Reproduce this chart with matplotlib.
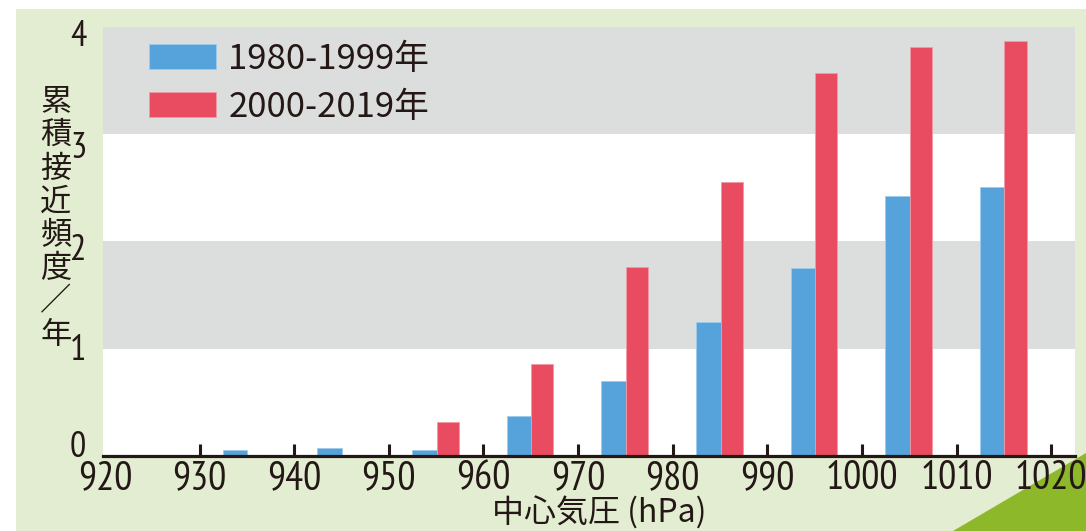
import matplotlib
matplotlib.use("Agg")
import matplotlib.pyplot as plt
from matplotlib.patches import Rectangle, Polygon
import matplotlib.transforms as mtransforms

# ---- data ----
bin_centers = [935, 945, 955, 965, 975, 985, 995, 1005, 1015]
freq_1980_1999 = [0.06, 0.07, 0.06, 0.37, 0.70, 1.25, 1.75, 2.42, 2.51]
freq_2000_2019 = [0.00, 0.00, 0.32, 0.86, 1.76, 2.55, 3.57, 3.81, 3.87]
series_labels = ["1980-1999年", "2000-2019年"]
x_ticks = [920, 930, 940, 950, 960, 970, 980, 990, 1000, 1010, 1020]
y_ticks = [0, 1, 2, 3, 4]
ylabel_chars = ["累", "積", "接", "近", "頻", "度", "／", "年"]
xlabel_text = "中心気圧 (hPa)"

W, H = 1086, 531
BLUE = "#56a3db"
RED = "#e94c60"
GREY = "#dcdedd"
GREEN_BG = "#e3edd2"
GREEN_TRI = "#8cb82a"
INK = "#231815"

NARROW = ["PT Sans Narrow", "DejaVu Sans Condensed", "DejaVu Sans"]
CJK = ["Noto Sans CJK JP", "DejaVu Sans"]

fig = plt.figure(figsize=(W / 100, H / 100), dpi=100, facecolor="white")

# background panel
fig.patches.append(Rectangle((16 / W, 0), 1 - 16 / W, (H - 9) / H,
                             transform=fig.transFigure, facecolor=GREEN_BG,
                             edgecolor="none", zorder=-2))
fig.patches.append(Polygon([(953 / W, 0), (1, (H - 453) / H), (1, 0)],
                           closed=True, transform=fig.transFigure,
                           facecolor=GREEN_TRI, edgecolor="none", zorder=-1))

left, right = 103 / W, 1075 / W
bottom, top = (H - 456) / H, (H - 26.7) / H
ax = fig.add_axes([left, bottom, right - left, top - bottom])
ax.set_facecolor("white")
ax.axhspan(3, 4, color=GREY, lw=0, zorder=0)
ax.axhspan(1, 2, color=GREY, lw=0, zorder=0)

xb = [c - 1.25 for c in bin_centers]
xr = [c + 1.22 for c in bin_centers]
ax.bar(xb, freq_1980_1999, width=2.6, color=BLUE, edgecolor="#9fcbec",
       linewidth=0.6, label=series_labels[0], zorder=2)
ax.bar(xr, freq_2000_2019, width=2.35, color=RED, edgecolor="#f29aa6",
       linewidth=0.6, label=series_labels[1], zorder=2)

ax.set_xlim(919.8, 1022.5)
ax.set_ylim(0, 4)

for s in ["top", "right", "left"]:
    ax.spines[s].set_visible(False)
ax.spines["bottom"].set_linewidth(2.3)
ax.spines["bottom"].set_color(INK)
ax.spines["bottom"].set_zorder(3)

ax.set_xticks(x_ticks)
ax.set_xticklabels([str(t) for t in x_ticks], family=NARROW, fontsize=29, color=INK)
ax.tick_params(axis="x", direction="in", length=8.5, width=2.2, color=INK, pad=3)
ax.xaxis.get_major_ticks()[0].tick1line.set_visible(False)

ax.set_yticks(y_ticks)
ax.set_yticklabels([str(t) for t in y_ticks], family=NARROW, fontsize=26, color=INK)
ax.tick_params(axis="y", length=0, pad=12)
y_offsets_px = [12, 2, -6, -11, -6]
for lab, off in zip(ax.get_yticklabels(), y_offsets_px):
    lab.set_transform(lab.get_transform() +
                      mtransforms.ScaledTranslation(0, off / 100, fig.dpi_scale_trans))

# vertical stacked y label
for i, ch in enumerate(ylabel_chars):
    fig.text(56 / W, 1 - (102 + i * 33.3) / H, ch, family=CJK, fontsize=22.5,
             color=INK, ha="center", va="center")

fig.text(599 / W, 1 - 513 / H, xlabel_text, family=CJK, fontsize=23,
         color=INK, ha="center", va="center")

leg = ax.legend(loc="upper left", bbox_to_anchor=(149 / W, 1 - 42 / H),
                bbox_transform=fig.transFigure, frameon=False,
                prop={"family": CJK, "size": 25},
                handlelength=1.93, handleheight=0.72, handletextpad=0.35,
                labelspacing=0.36, borderaxespad=0, borderpad=0)
for txt in leg.get_texts():
    txt.set_color(INK)

fig.savefig("out.png", dpi=100, facecolor="white")
